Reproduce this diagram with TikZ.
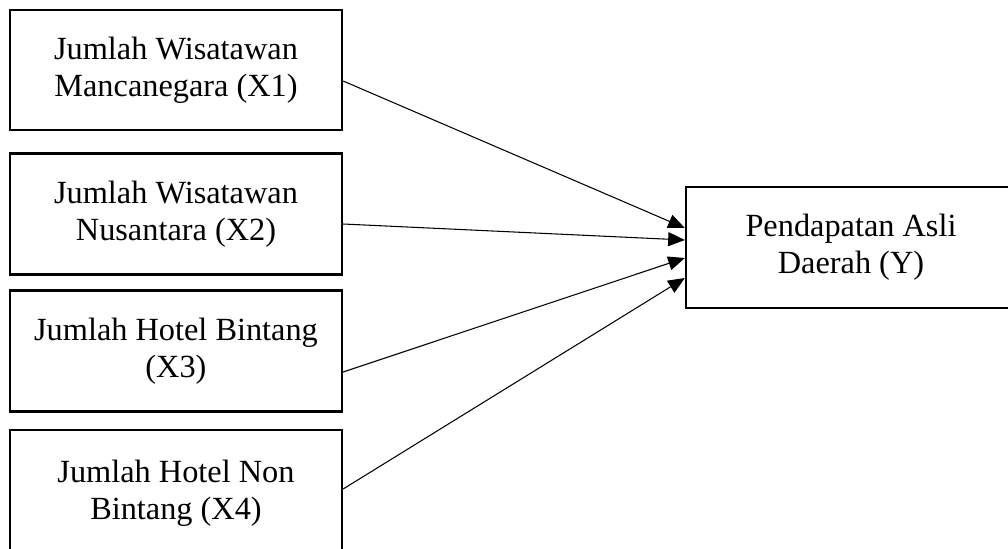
\documentclass[tikz,border=0pt]{standalone}
\usepackage{fontspec}
\setmainfont{Liberation Serif}
\usetikzlibrary{arrows.meta,calc}
\begin{document}
\begin{tikzpicture}[x=0.02cm,y=-0.02cm,
  box/.style={draw,line width=1.3pt,rectangle,align=center,inner sep=0pt,
    font=\fontsize{18.4}{21}\selectfont},
  conn/.style={line width=0.6pt,-{Triangle[length=9.5pt,width=8pt]}}]
\useasboundingbox (0,0) rectangle (1008,548);
\clip (0,0) rectangle (1008,548);
\node[box,minimum width=332*0.02cm,minimum height=120*0.02cm] (x1) at (176,70) {Jumlah Wisatawan\\Mancanegara (X1)};
\node[box,minimum width=332*0.02cm,minimum height=121*0.02cm] (x2) at (176,214) {Jumlah Wisatawan\\Nusantara (X2)};
\node[box,minimum width=332*0.02cm,minimum height=121*0.02cm] (x3) at (176,351) {Jumlah Hotel Bintang\\(X3)};
\node[box,minimum width=332*0.02cm,minimum height=126*0.02cm] (x4) at (176,493) {Jumlah Hotel Non\\Bintang (X4)};
\node[box,minimum width=330*0.02cm,minimum height=121*0.02cm] (y) at (851,247.5) {Pendapatan Asli\\Daerah (Y)};
\draw[conn] ($(x1.east)+(0,11)$) -- ($(y.west)+(0,-19.5)$);
\draw[conn] ($(x2.east)+(0,10)$) -- ($(y.west)+(0,-7.5)$);
\draw[conn] ($(x3.east)+(0,21)$) -- ($(y.west)+(0,10.5)$);
\draw[conn] ($(x4.east)+(0,-4)$) -- ($(y.west)+(0,30.5)$);
\end{tikzpicture}
\end{document}
